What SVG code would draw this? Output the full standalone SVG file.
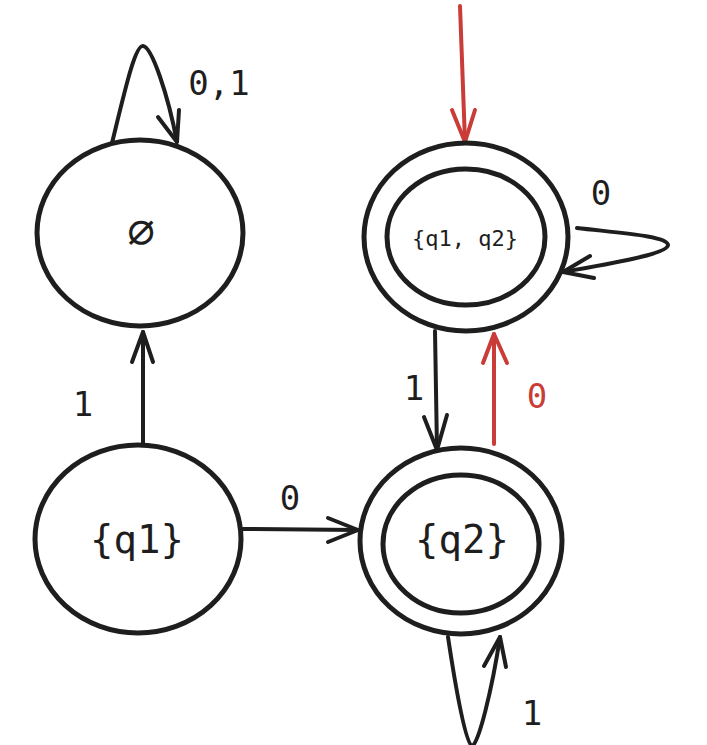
<svg xmlns="http://www.w3.org/2000/svg" width="707" height="745" viewBox="0 0 707 745">
<style>
.node{fill:none;stroke:#1e1e1e;stroke-width:5}
.edge{fill:none;stroke:#1e1e1e;stroke-width:4;stroke-linecap:round;stroke-linejoin:round}
.red{stroke:#c93c37}
.lbl{font-family:"DejaVu Sans Mono","Liberation Mono",monospace;fill:#1e1e1e;text-anchor:middle}
.elbl{font-size:34px}
.redt{fill:#c93c37}
</style>
<rect width="707" height="745" fill="#ffffff"/>
<g id="connectors">
  <path class="edge" d="M112,143 C125,90 135,45 143,46 C152,47 168,95 177,142"/>
  <path class="edge" d="M158,117 L177,142 L179,110"/>
  <path class="edge" d="M143,443 L143,332"/>
  <path class="edge" d="M132,362 L143,332 L153,362"/>
  <path class="edge" d="M243,529 L358,530"/>
  <path class="edge" d="M328,518 L358,530 L328,542"/>
  <path class="edge red" d="M460,6 L465,142"/>
  <path class="edge red" d="M452,110 L465,142 L475,110"/>
  <path class="edge" d="M577,228 C620,233 668,236 668,245 C668,254 610,264 563,272"/>
  <path class="edge" d="M590,256 L563,272 L594,278"/>
  <path class="edge" d="M435,331 L437,450"/>
  <path class="edge" d="M424,417 L437,450 L447,415"/>
  <path class="edge red" d="M494,444 L494,334"/>
  <path class="edge red" d="M483,363 L494,334 L507,363"/>
  <path class="edge" d="M448,637 C456,690 466,746 472,746 C478,746 492,690 500,637"/>
  <path class="edge" d="M484,666 L500,637 L506,667"/>
</g>
<g id="labels">
  <text class="lbl elbl" x="219" y="95">0,1</text>
  <text class="lbl elbl" x="83" y="416">1</text>
  <text class="lbl elbl" x="290" y="510">0</text>
  <text class="lbl elbl" x="601" y="205">0</text>
  <text class="lbl elbl" x="414" y="400">1</text>
  <text class="lbl elbl redt" x="537" y="408">0</text>
  <text class="lbl elbl" x="532" y="725">1</text>
</g>
<g id="node-empty">
  <ellipse class="node" cx="140" cy="233" rx="103" ry="93"/>
  <text class="lbl" x="141" y="247" font-size="46" font-family="DejaVu Sans" style="font-weight:200">∅</text>
</g>
<g id="node-q1q2">
  <ellipse class="node" cx="466" cy="237" rx="102" ry="94"/>
  <ellipse class="node" cx="466" cy="237" rx="79" ry="68"/>
  <text class="lbl" x="465" y="246" font-size="22">{q1, q2}</text>
</g>
<g id="node-q1">
  <ellipse class="node" cx="138" cy="539" rx="103" ry="94"/>
  <text class="lbl" x="137" y="553" font-size="39">{q1}</text>
</g>
<g id="node-q2">
  <ellipse class="node" cx="461" cy="541" rx="101" ry="93"/>
  <ellipse class="node" cx="461" cy="544" rx="78" ry="69"/>
  <text class="lbl" x="462" y="553" font-size="39">{q2}</text>
</g>
</svg>
